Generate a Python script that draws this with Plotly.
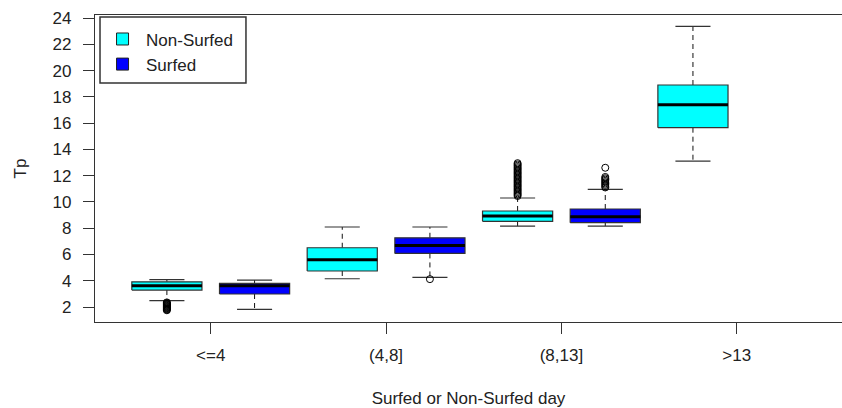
import plotly.graph_objects as go

# Wave-period (Tp) distributions per height class, split by surfed / non-surfed days
categories = ["<=4", "(4,8]", "(8,13]", ">13"]
series_names = ["Non-Surfed", "Surfed"]
series_colors = ["#00FFFF", "#0000FF"]

# Box statistics per class: lower whisker, Q1, median, Q3, upper whisker
nonsurfed_lower = [2.48, 4.15, 8.16, 13.11]
nonsurfed_q1 = [3.29, 4.74, 8.52, 15.65]
nonsurfed_median = [3.62, 5.60, 8.93, 17.40]
nonsurfed_q3 = [3.92, 6.51, 9.31, 18.90]
nonsurfed_upper = [4.08, 8.09, 10.30, 23.36]

surfed_lower = [1.82, 4.25, 8.16, None]
surfed_q1 = [2.99, 6.08, 8.42, None]
surfed_median = [3.61, 6.69, 8.87, None]
surfed_q3 = [3.80, 7.27, 9.46, None]
surfed_upper = [4.05, 8.09, 10.95, None]

# Outlying observations per class
nonsurfed_outliers = [
    [2.35, 2.30, 2.25, 2.20, 2.15, 2.10, 2.05, 2.00, 1.95, 1.90, 1.85, 1.80, 1.75],
    [],
    [10.45, 10.55, 10.65, 10.75, 10.85, 10.95, 11.05, 11.15, 11.25, 11.35,
     11.45, 11.55, 11.65, 11.75, 11.85, 11.95, 12.05, 12.15, 12.25, 12.35,
     12.45, 12.55, 12.65, 12.75, 12.85, 12.95],
    [],
]
surfed_outliers = [
    [],
    [4.12],
    [11.10, 11.20, 11.30, 11.40, 11.50, 11.60, 11.70, 11.80, 11.90, 12.60],
    [],
]

series = [
    dict(lower=nonsurfed_lower, q1=nonsurfed_q1, med=nonsurfed_median,
         q3=nonsurfed_q3, upper=nonsurfed_upper, out=nonsurfed_outliers),
    dict(lower=surfed_lower, q1=surfed_q1, med=surfed_median,
         q3=surfed_q3, upper=surfed_upper, out=surfed_outliers),
]

HALF_BOX = 0.4   # half box width (x units)
HALF_CAP = 0.2   # half staple width
EDGE = "#333333"
FONT = "Arial, Liberation Sans, Helvetica, sans-serif"
FONT_SIZE = 17

fig = go.Figure()

whisk_x, whisk_y, cap_x, cap_y = [], [], [], []
med_x, med_y, out_x, out_y = [], [], [], []
box_paths = []

for j, s in enumerate(series):
    box_x, box_y = [], []
    for i in range(len(categories)):
        if s["q1"][i] is None:
            continue
        pos = 2 * i + j + 1
        lo, q1, md, q3, hi = s["lower"][i], s["q1"][i], s["med"][i], s["q3"][i], s["upper"][i]
        box_x += [pos - HALF_BOX, pos + HALF_BOX, pos + HALF_BOX, pos - HALF_BOX, pos - HALF_BOX, None]
        box_y += [q1, q1, q3, q3, q1, None]
        whisk_x += [pos, pos, None, pos, pos, None]
        whisk_y += [q3, hi, None, q1, lo, None]
        cap_x += [pos - HALF_CAP, pos + HALF_CAP, None, pos - HALF_CAP, pos + HALF_CAP, None]
        cap_y += [hi, hi, None, lo, lo, None]
        med_x += [pos - HALF_BOX, pos + HALF_BOX, None]
        med_y += [md, md, None]
        for v in s["out"][i]:
            out_x.append(pos)
            out_y.append(v)
    box_paths.append((box_x, box_y))

# whiskers and staples first so the boxes sit on top
fig.add_trace(go.Scatter(x=whisk_x, y=whisk_y, mode="lines", showlegend=False,
                         line=dict(color="#111111", width=1, dash="5px,4px"),
                         hoverinfo="skip"))
fig.add_trace(go.Scatter(x=cap_x, y=cap_y, mode="lines", showlegend=False,
                         line=dict(color="#333333", width=1.2), hoverinfo="skip"))
for j, (bx, by) in enumerate(box_paths):
    fig.add_trace(go.Scatter(x=bx, y=by, mode="lines", fill="toself",
                             fillcolor=series_colors[j], showlegend=False,
                             line=dict(color=EDGE, width=1.2), hoverinfo="skip"))
fig.add_trace(go.Scatter(x=med_x, y=med_y, mode="lines", showlegend=False,
                         line=dict(color="black", width=3), hoverinfo="skip"))
fig.add_trace(go.Scatter(x=out_x, y=out_y, mode="markers", showlegend=False,
                         marker=dict(symbol="circle-open", size=7,
                                     color="black", line=dict(width=1))))

# legend entries
for name, col in zip(series_names, series_colors):
    fig.add_trace(go.Scatter(x=[None], y=[None], mode="markers", name=name,
                             marker=dict(symbol="square", size=12, color=col,
                                         line=dict(color="#222222", width=1))))

# frame drawn around the legend
fig.add_shape(type="rect", xref="paper", yref="paper",
              x0=0.0067, x1=0.2021, y0=0.7785, y1=0.9935,
              line=dict(color="#333333", width=1.5), fillcolor="rgba(0,0,0,0)")

fig.update_layout(
    width=842, height=408,
    margin=dict(l=95, r=0, t=15, b=86),
    paper_bgcolor="white", plot_bgcolor="white",
    font=dict(family=FONT, size=FONT_SIZE, color="#222222"),
    showlegend=True,
    legend=dict(x=0.0054, y=0.979, xanchor="left", yanchor="top",
                borderwidth=0, bgcolor="rgba(0,0,0,0)",
                font=dict(size=FONT_SIZE, family=FONT), tracegroupgap=0,
                itemwidth=37),
    xaxis=dict(range=[0.18, 8.70], tickvals=[2 * i + 1.5 for i in range(len(categories))],
               ticktext=categories, ticks="outside", ticklen=11, tickcolor=EDGE,
               showline=True, linecolor=EDGE, linewidth=1.2, mirror=True,
               showgrid=False, zeroline=False, ticklabelstandoff=6,
               title=dict(text="Surfed or Non-Surfed day", standoff=29,
                          font=dict(size=FONT_SIZE, family=FONT)),
               automargin=False),
    yaxis=dict(range=[0.858, 24.23], tick0=2, dtick=2, ticks="outside", ticklen=11,
               tickcolor=EDGE, showline=True, linecolor=EDGE, linewidth=1.2,
               showgrid=False, zeroline=False, ticklabelstandoff=8,
               title=dict(text="Tp", standoff=21,
                          font=dict(size=FONT_SIZE, family=FONT)),
               automargin=False),
)

fig.write_html("out.html")
